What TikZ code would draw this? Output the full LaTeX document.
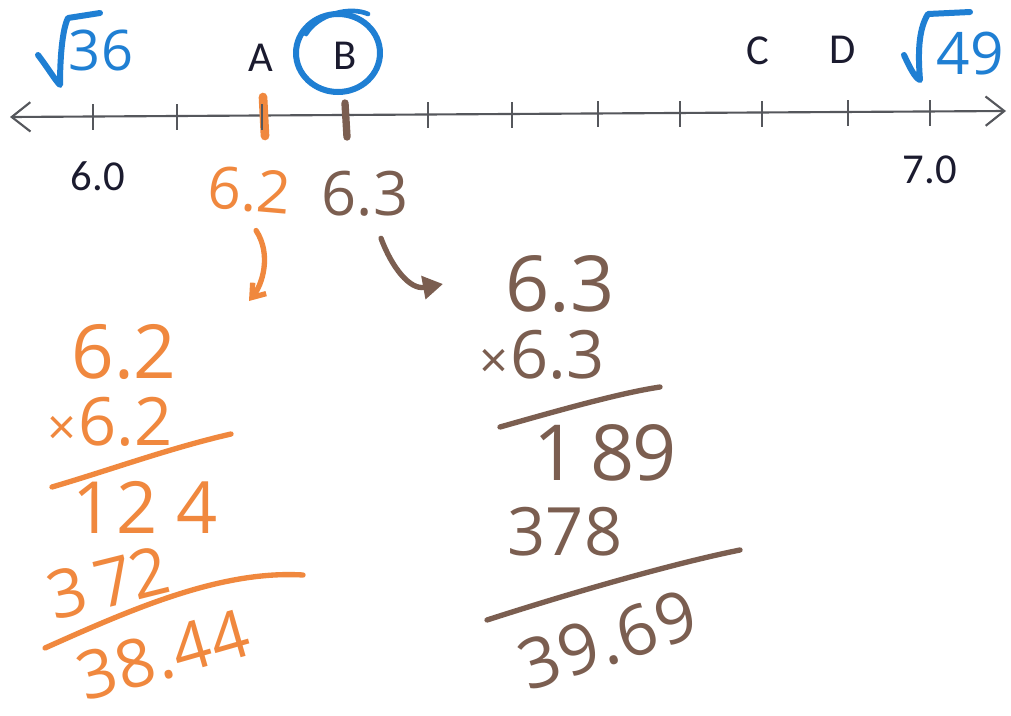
\documentclass[tikz,border=0pt]{standalone}
\usepackage{fontspec}
\setmainfont{Carlito}
\newfontfamily\handfont{Open Sans}
\usetikzlibrary{arrows.meta}
\definecolor{navy}{HTML}{1B1B2F}
\definecolor{axisgray}{HTML}{55575C}
\definecolor{inkorange}{HTML}{F0883E}
\definecolor{inkbrown}{HTML}{7B5E50}
\definecolor{inkblue}{HTML}{1F7FD3}
\tikzset{
  lbl/.style={text=navy, font=\fontsize{32}{32}\selectfont, inner sep=0pt},
  tick/.style={draw=axisgray, line width=1.8pt},
  hand/.style={inner sep=0pt, font=\handfont\fontsize{#1}{#1}\selectfont},
  hand/.default=52,
  oink/.style={text=inkorange},
  bink/.style={text=inkbrown},
  binkb/.style={text=inkblue},
  ostroke/.style={draw=inkorange, line width=4pt, line cap=round},
  bstroke/.style={draw=inkbrown, line width=4pt, line cap=round},
  bluestroke/.style={draw=inkblue, line width=4.5pt, line cap=round, line join=round},
}
\newcommand{\tms}{{\fontsize{38}{38}\selectfont ×}}
\begin{document}
\begin{tikzpicture}[x=0.75pt, y=-0.75pt]
\useasboundingbox (0,0) rectangle (1011,715);
\fill[white] (0,0) rectangle (1011,715);
% number line
\coordinate (L) at (10,117);
\coordinate (R) at (1006,111);
\draw[draw=axisgray, line width=1.6pt, {Straight Barb[length=14pt,width=22pt]}-{Straight Barb[length=14pt,width=22pt]}] (L) -- (R);
\foreach \x/\y in {93/116,177/116,428/114,512/114,598/113,680/113,762/113,848/112,930/112}
  \draw[tick] (\x,\y-12) -- (\x,\y+14);
% A and B ticks
\draw[draw=inkorange, line width=6.5pt, line cap=round] (263,97) -- (265,136);
\draw[draw=axisgray, line width=1.8pt] (262,104) -- (262,130);
\draw[draw=inkbrown, line width=5.5pt, line cap=round] (345,103) -- (347,137);
% letter labels
\node[lbl] (A) at (261,58) {A};
\node[lbl] (B) at (345,56) {B};
\node[lbl] (C) at (758,51) {C};
\node[lbl] (D) at (843,50) {D};
\node[lbl] (n60) at (98,176) {6.0};
\node[lbl] (n70) at (930,170) {7.0};
% circle around B
\draw[bluestroke] (338,53) ellipse [x radius=42, y radius=39];
\draw[draw=inkblue, line width=3.5pt, line cap=round] (306,34) .. controls (318,14) and (350,6) .. (368,14);
% sqrt 36
\node[hand=42, binkb] (s36) at (101,50) {36};
\draw[bluestroke] (38,55) .. controls (48,68) and (55,80) .. (60,85) .. controls (60,60) and (62,30) .. (68,18) -- (100,13);
% sqrt 49
\node[hand=44, binkb] (s49) at (970,54) {49};
\draw[bluestroke] (904,55) .. controls (910,68) and (915,78) .. (920,80) .. controls (918,55) and (918,30) .. (928,14) -- (970,12);
% values below
\node[hand=44, oink, rotate=-5] (v62) at (250,190) {6.2};
\node[hand=46, bink] (v63) at (365,194) {6.3};
% orange column
\node[hand=56, oink] (o1) at (124,352) {6.2};
\node[hand=50, oink] (o2) at (110,422) {\tms\kern2pt6.2};
\draw[ostroke] (52,487) .. controls (110,470) and (170,448) .. (231,434);
\node[hand=54, oink] (o3) at (145,507) {1\kern2pt2\kern14pt4};
\node[hand=50, oink, rotate=14] (o4) at (108,583) {3\kern8pt7\kern-2pt2};
\draw[ostroke] (45,648) .. controls (130,610) and (220,570) .. (303,575);
\node[hand=50, oink, rotate=16] (o5) at (163,655) {3\kern1pt8\kern1pt.\kern1pt4\kern1pt4};
% brown column
\node[hand=58, bink] (b1) at (560,284) {6.3};
\node[hand=50, bink] (b2) at (542,355) {\tms\kern2pt6.3};
\draw[bstroke] (500,427) .. controls (560,410) and (620,393) .. (660,387);
\node[hand=58, bink] (b3) at (605,453) {1\kern10pt8\kern-2pt9};
\node[hand=50, bink] (b4) at (565,532) {378};
\draw[bstroke] (487,620) .. controls (580,590) and (680,562) .. (740,550);
\node[hand=52, bink, rotate=18] (b5) at (608,640) {3\kern1pt9\kern1pt.\kern1pt6\kern1pt9};
% connectors
\draw[ostroke, -{Straight Barb[length=9pt,width=13pt]}] ([xshift=6pt,yshift=-14pt]v62.south) .. controls (272,255) and (262,285) .. (249,301);
\draw[bstroke, -{Triangle[length=15pt,width=17pt]}] ([xshift=12pt,yshift=-16pt]v63.south) .. controls (392,268) and (410,290) .. (443,284);
\end{tikzpicture}
\end{document}
